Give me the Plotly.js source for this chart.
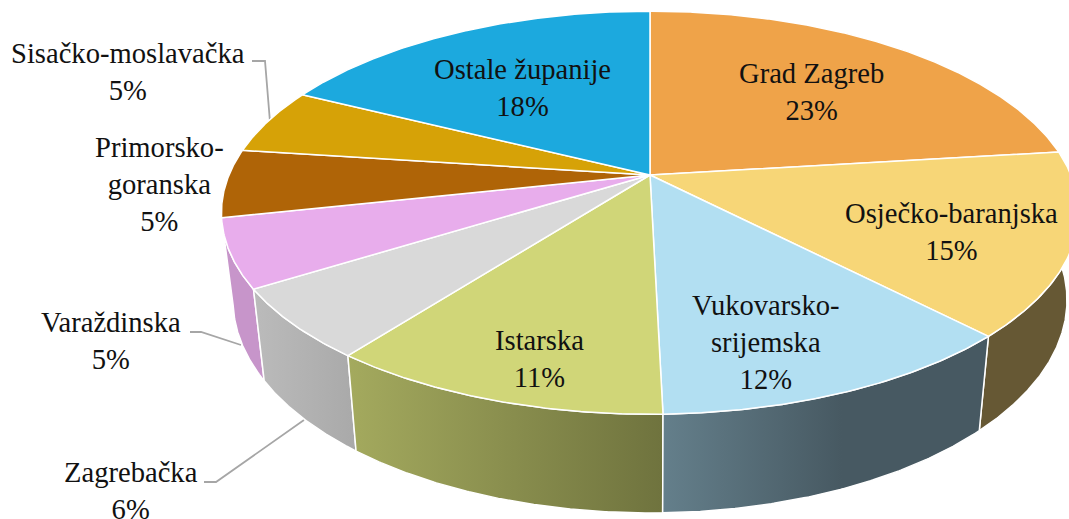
<!DOCTYPE html>
<html>
<head>
<meta charset="utf-8">
<script src="https://cdn.plot.ly/plotly-3.0.1.min.js"></script>
<style>html,body{margin:0;padding:0;background:#fff;overflow:hidden}#c{width:1069px;height:519px}</style>
</head>
<body>
<div id="c"></div>
<script>
const categories = ['Grad Zagreb','Osječko-baranjska','Vukovarsko-srijemska','Istarska','Zagrebačka','Varaždinska','Primorsko-goranska','Sisačko-moslavačka','Ostale županije'];
const values = [23.07,14.68,11.85,10.87,5.66,5.49,5.45,5.30,17.63];
const percentLabels = ['23%','15%','12%','11%','6%','5%','5%','5%','18%'];
const labelLines = ['Grad Zagreb','Osječko-baranjska','Vukovarsko-<br>srijemska','Istarska','Zagrebačka','Varaždinska','Primorsko-<br>goranska','Sisačko-moslavačka','Ostale županije'];
const topColors = ['#EFA349','#F7D677','#B2DFF2','#D0D678','#D9D9D9','#E8ADEC','#AF6407','#D6A207','#1CA9DE'];
const wallFrom = ['#8A6B3A','#665834','#647F8B','#A4AA5E','#BBBBBB','#C795CA','#8A5A10','#8A6B10','#14769B'];
const wallTo   = ['#8A6B3A','#665834','#475962','#6F733E','#A9A9A9','#C795CA','#8A5A10','#8A6B10','#14769B'];
const wallStop = [1,1,0.55,1,1,1,1,1,1];
const wallOrder = [0,8,7,6,5,1,4,3,2];
const labelX = [811,951,766,539,131,111,159,128,522];
const labelY = [92,232,342,359,491,341,184,72,88];

// projection of the pie disc (pixel-sized axes)
const cx = 650, cy = 175, A = 421, B = 194.5, k = 0.187;
const sx = 0.973, by = 1.056, bc = 75.5;
function topPt(t){ const u = Math.sin(t), v = Math.cos(t), w = 1 + k*v;
  return [cx + A*u/w, cy - B*v/w]; }
function botPt(t){ const p = topPt(t); return [cx + sx*(p[0]-cx), by*p[1] + bc]; }
function arc(f, a, b){ const out = [], n = Math.max(2, Math.ceil(Math.abs(b-a)/0.005));
  for (let i = 0; i <= n; i++) out.push(f(a + (b-a)*i/n)); return out; }

const total = values.reduce((s,v)=>s+v,0);
const walls = [], faces = [];
let run = 0;
values.forEach((val,i)=>{
  const a = run/total*2*Math.PI; run += val; const b = run/total*2*Math.PI;
  const tArc = arc(topPt,a,b), bArc = arc(botPt,a,b).reverse();
  const wall = tArc.concat(bArc); wall.push(tArc[0]);
  const scale = wallStop[i] < 1 ? [[0,wallFrom[i]],[wallStop[i],wallTo[i]],[1,wallTo[i]]] : [[0,wallFrom[i]],[1,wallTo[i]]];
  walls[i] = {type:'scatter',mode:'lines',x:wall.map(p=>p[0]),y:wall.map(p=>p[1]),fill:'toself',
    fillcolor:wallFrom[i],
    fillgradient:{type:'horizontal',colorscale:scale},
    line:{color:'#FFFFFF',width:1.5},hoverinfo:'skip',showlegend:false};
  const face = [[cx,cy]].concat(tArc); face.push([cx,cy]);
  faces.push({type:'scatter',mode:'lines',name:categories[i],x:face.map(p=>p[0]),y:face.map(p=>p[1]),fill:'toself',
    fillcolor:topColors[i],line:{color:'#FFFFFF',width:1.5},hoverinfo:'skip',showlegend:false});
});
const traces = wallOrder.map(i=>walls[i]);

const leader = (xs,ys)=>({type:'path',layer:'below',
  path:'M'+xs.map((x,i)=>x+' '+ys[i]).join(' L'),line:{color:'#A6A6A6',width:1.8}});
const shapes = [
  leader([252,265,270],[61,61,122]),
  leader([190,201,241],[332,332,345]),
  leader([204,216,304],[482,482,420])
];

const annotations = categories.map((c,i)=>({
  x:labelX[i],y:labelY[i],xref:'x',yref:'y',showarrow:false,xanchor:'center',yanchor:'middle',align:'center',
  text:labelLines[i]+'<br>'+percentLabels[i],
  font:{family:'"Liberation Serif",serif',size:28.6,color:'#111111'}
}));

Plotly.newPlot('c',traces.concat(faces),{
  width:1069,height:519,margin:{l:0,r:0,t:0,b:0},
  paper_bgcolor:'#FFFFFF',plot_bgcolor:'#FFFFFF',showlegend:false,
  xaxis:{range:[0,1069],visible:false,fixedrange:true},
  yaxis:{range:[519,0],visible:false,fixedrange:true},
  shapes,annotations
},{displayModeBar:false,staticPlot:true});
</script>
</body>
</html>
